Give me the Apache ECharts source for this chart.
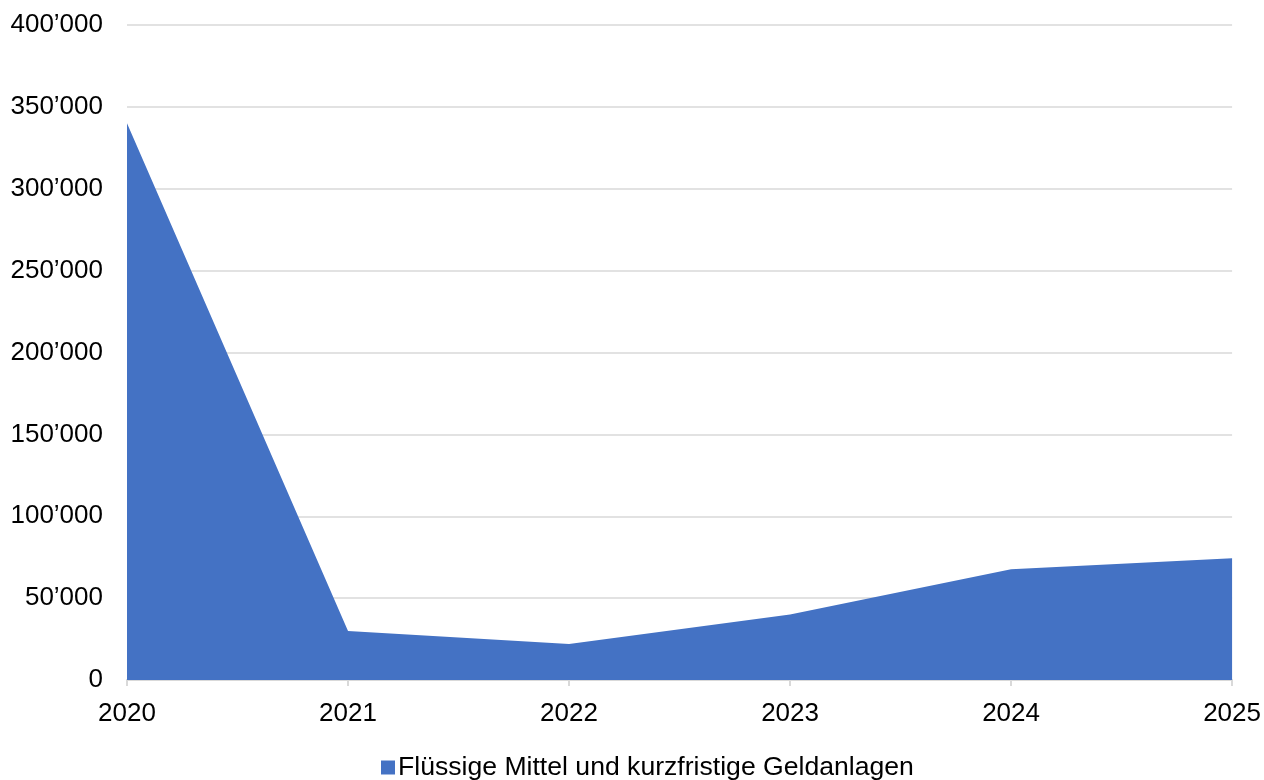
<!DOCTYPE html>
<html>
<head>
<meta charset="utf-8">
<script src="https://cdn.jsdelivr.net/npm/echarts@6/dist/echarts.min.js"></script>
<style>
  html, body { margin: 0; padding: 0; background: #fff; }
  #chart { width: 1264px; height: 780px; }
</style>
</head>
<body>
<div id="chart"></div>
<script>
const years = ['2020', '2021', '2022', '2023', '2024', '2025']
const liquidFunds = [340000, 30000, 22000, 40000, 67700, 74300]
const seriesName = 'Flüssige Mittel und kurzfristige Geldanlagen'

const fmt = (v) => String(v).replace(/\B(?=(\d{3})+(?!\d))/g, '\u2019')

const chart = echarts.init(document.getElementById('chart'))
chart.setOption({
  animation: false,
  textStyle: { fontFamily: 'Liberation Sans, Arial, sans-serif' },
  grid: { left: 127, right: 31, top: 25, bottom: 100 },
  legend: {
    bottom: -6,
    left: 376,
    itemWidth: 14,
    itemHeight: 14,
    icon: 'rect',
    textStyle: { fontSize: 26.6, color: '#000', padding: [0, 0, 0, -2] },
    data: [seriesName]
  },
  xAxis: {
    type: 'category',
    data: years,
    boundaryGap: false,
    axisLine: { lineStyle: { color: '#d9d9d9', width: 2 } },
    axisTick: { show: true, length: 6, lineStyle: { color: '#d9d9d9', width: 2 } },
    axisLabel: { color: '#000', fontSize: 26, margin: 21 }
  },
  yAxis: {
    type: 'value',
    min: 0,
    max: 400000,
    interval: 50000,
    axisLine: { show: false },
    axisTick: { show: false },
    axisLabel: { color: '#000', fontSize: 26, margin: 24, formatter: fmt },
    splitLine: { lineStyle: { color: '#d9d9d9', width: 1.5 } }
  },
  series: [
    {
      name: seriesName,
      type: 'line',
      data: liquidFunds,
      symbol: 'none',
      lineStyle: { width: 0 },
      itemStyle: { color: '#4472c4' },
      areaStyle: { color: '#4472c4', opacity: 1 }
    }
  ]
})
</script>
</body>
</html>
